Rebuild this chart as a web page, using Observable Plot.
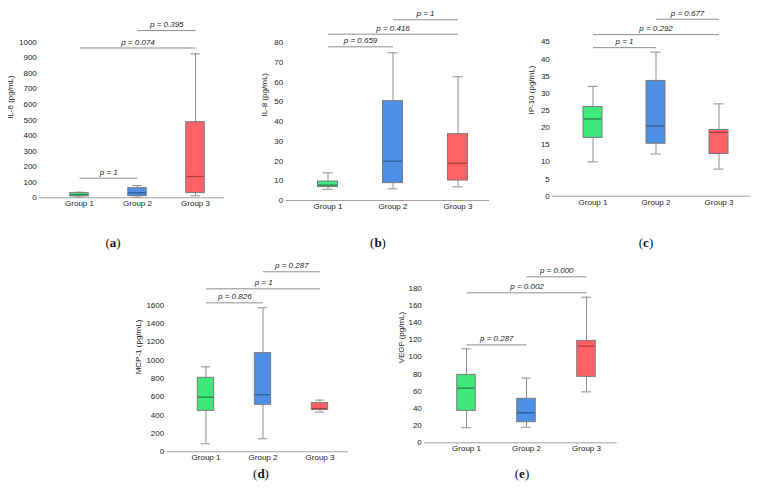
<!DOCTYPE html>
<html><head><meta charset="utf-8">
<script src="https://cdn.jsdelivr.net/npm/d3@7"></script>
<script src="https://cdn.jsdelivr.net/npm/@observablehq/plot@0.6"></script>
<style>
body{margin:0;background:#fff}
#wrap{position:relative;width:757px;height:499px;background:#fff;overflow:hidden}
.panel{position:absolute}
.panel svg{overflow:visible}
.tag{position:absolute;font-family:"Liberation Serif","Times New Roman",serif;font-size:13px;color:#111;transform:translate(-50%,-50%);white-space:nowrap}
</style></head><body><div id="wrap"></div>
<script>
const groups = ["Group 1", "Group 2", "Group 3"];
const boxColors = ["#3ee87a", "#4f8fe6", "#ff6166"];
const medianColors = ["#2f7a4c", "#2d5a8e", "#a83d42"];

// (a) IL-6
const il6Min = [4, 4, 13];
const il6Q1 = [9, 11, 30];
const il6Med = [20, 32, 137];
const il6Q3 = [30, 62, 486];
const il6Max = [36, 79, 925];
const il6Ticks = [0, 100, 200, 300, 400, 500, 600, 700, 800, 900, 1000];
const il6Pairs = [["Group 1", "Group 2"], ["Group 1", "Group 3"], ["Group 2", "Group 3"]];
const il6PY = [126, 963, 1075];
const il6P = ["p = 1", "p = 0.074", "p = 0.395"];

// (b) IL-8
const il8Min = [5.7, 5.9, 6.9];
const il8Q1 = [6.8, 8.8, 10.1];
const il8Med = [7.8, 19.9, 18.9];
const il8Q3 = [9.6, 50.3, 33.6];
const il8Max = [14, 74.8, 62.6];
const il8Ticks = [0, 10, 20, 30, 40, 50, 60, 70, 80];
const il8Pairs = [["Group 1", "Group 2"], ["Group 1", "Group 3"], ["Group 2", "Group 3"]];
const il8PY = [77.8, 84.2, 91.5];
const il8P = ["p = 0.659", "p = 0.416", "p = 1"];

// (c) IP-10
const ip10Min = [10, 12.3, 7.9];
const ip10Q1 = [17, 15.3, 12.3];
const ip10Med = [22.5, 20.5, 18.6];
const ip10Q3 = [26, 33.6, 19.3];
const ip10Max = [32, 42, 26.9];
const ip10Ticks = [0, 5, 10, 15, 20, 25, 30, 35, 40, 45];
const ip10Pairs = [["Group 1", "Group 2"], ["Group 1", "Group 3"], ["Group 2", "Group 3"]];
const ip10PY = [43.3, 47.1, 51.6];
const ip10P = ["p = 1", "p = 0.292", "p = 0.677"];

// (d) MCP-1
const mcp1Min = [87, 142, 433];
const mcp1Q1 = [447, 513, 455];
const mcp1Med = [596, 622, 473];
const mcp1Q3 = [807, 1076, 531];
const mcp1Max = [927, 1571, 564];
const mcp1Ticks = [0, 200, 400, 600, 800, 1000, 1200, 1400, 1600];
const mcp1Pairs = [["Group 1", "Group 2"], ["Group 1", "Group 3"], ["Group 2", "Group 3"]];
const mcp1PY = [1625, 1778, 1964];
const mcp1P = ["p = 0.826", "p = 1", "p = 0.287"];

// (e) VEGF
const vegfMin = [17.5, 18.2, 59.3];
const vegfQ1 = [37.2, 24, 76.8];
const vegfMed = [63.6, 34.9, 112.5];
const vegfQ3 = [79.1, 51.2, 118.7];
const vegfMax = [109.4, 75.3, 169.5];
const vegfTicks = [0, 20, 40, 60, 80, 100, 120, 140, 160, 180];
const vegfPairs = [["Group 1", "Group 2"], ["Group 1", "Group 3"], ["Group 2", "Group 3"]];
const vegfPY = [114, 174.6, 193.2];
const vegfP = ["p = 0.287", "p = 0.002", "p = 0.000"];

const wrap = document.getElementById("wrap");

function drawPanel(L, title, yLabel, mins, q1s, meds, q3s, maxs, ticks, pairs, pys, ps) {
  const rows = groups.map((g, i) => ({group: g, min: mins[i], q1: q1s[i], med: meds[i], q3: q3s[i], max: maxs[i], fill: boxColors[i], mc: medianColors[i]}));
  const br = pairs.map((p, i) => ({from: p[0], to: p[1], y: pys[i], label: ps[i]}));
  const s = L.step;
  const inBox = (s - L.boxW) / 2, inCap = (s - L.capW) / 2;
  const gray = "#8e8e8e";
  const bracketMarks = br.flatMap(b => {
    const span = groups.indexOf(b.to) - groups.indexOf(b.from);
    return [
      Plot.link([b], {x1: "from", x2: "to", y1: "y", y2: "y", stroke: gray, strokeWidth: 1}),
      Plot.text([b], {x: "from", y: "y", text: "label", dx: span * s / 2, dy: -6, fontStyle: "italic", fill: "#222"})
    ];
  });
  const svg = Plot.plot({
    width: L.width, height: L.height,
    marginLeft: L.axisLeft - L.left,
    marginRight: L.left + L.width - L.axisRight,
    marginTop: L.yTopPx - L.top,
    marginBottom: L.top + L.height - L.yBase,
    x: {type: "band", domain: groups, range: [L.c1 - L.left - s / 2, L.c1 - L.left + 2.5 * s], padding: 0},
    y: {domain: [0, L.yTop]},
    style: {fontFamily: "'Liberation Sans', Arial, sans-serif", fontSize: "8px", color: "#222", background: "transparent", overflow: "visible"},
    marks: [
      Plot.ruleX(rows, {x: "group", y1: "min", y2: "max", stroke: gray}),
      Plot.tickY(rows, {x: "group", y: "min", stroke: gray, insetLeft: inCap, insetRight: inCap}),
      Plot.tickY(rows, {x: "group", y: "max", stroke: gray, insetLeft: inCap, insetRight: inCap}),
      Plot.barY(rows, {x: "group", y1: "q1", y2: "q3", fill: "fill", stroke: "#7a7a7a", strokeWidth: 1, insetLeft: inBox, insetRight: inBox}),
      Plot.tickY(rows, {x: "group", y: "med", stroke: "mc", strokeWidth: 1.2, insetLeft: inBox + 0.5, insetRight: inBox + 0.5}),
      Plot.ruleY([0], {stroke: "#a0a0a0"}),
      Plot.axisY({ticks, tickFormat: d => String(d), tickSize: 0, tickPadding: 3, line: true, stroke: "#a0a0a0", fill: "#222", label: null}),
      Plot.axisX({tickSize: 0, tickPadding: 3, label: null, fill: "#222"}),
      Plot.text([yLabel], {frameAnchor: "left", rotate: -90, dx: L.labelDx, text: d => d, fill: "#222"}),
      ...bracketMarks
    ]
  });
  const div = document.createElement("div");
  div.className = "panel";
  div.style.left = L.left + "px";
  div.style.top = L.top + "px";
  div.appendChild(svg);
  wrap.appendChild(div);
  const tag = document.createElement("div");
  tag.className = "tag";
  tag.style.left = L.tagX + "px";
  tag.style.top = L.tagY + "px";
  tag.innerHTML = "(<b>" + title + "</b>)";
  wrap.appendChild(tag);
}

const layoutA = {left: 0, top: 0, width: 245, height: 215, axisLeft: 39.3, axisRight: 224, yBase: 197.3, yTopPx: 39.4, yTop: 1015, c1: 78, step: 58.5, boxW: 19, capW: 10, labelDx: -29.3, tagX: 113, tagY: 243};
const layoutB = {left: 250, top: 0, width: 250, height: 215, axisLeft: 285.7, axisRight: 489, yBase: 200, yTopPx: 32.1, yTop: 85, c1: 327.7, step: 65, boxW: 20, capW: 10, labelDx: -21.7, tagX: 378, tagY: 243};
const layoutC = {left: 500, top: 0, width: 257, height: 215, axisLeft: 552.3, axisRight: 750, yBase: 195.7, yTopPx: 32.4, yTop: 47.6, c1: 592.3, step: 63, boxW: 19, capW: 10, labelDx: -21.6, tagX: 646, tagY: 243};
const layoutD = {left: 130, top: 250, width: 240, height: 215, axisLeft: 166.7, axisRight: 348, yBase: 451.3, yTopPx: 296.4, yTop: 1690, c1: 204.7, step: 57.7, boxW: 17, capW: 10, labelDx: -28.4, tagX: 261, tagY: 474};
const layoutE = {left: 380, top: 250, width: 250, height: 215, axisLeft: 424.3, axisRight: 616.7, yBase: 442.3, yTopPx: 283.4, yTop: 185, c1: 465, step: 60.5, boxW: 19, capW: 10, labelDx: -23.6, tagX: 522, tagY: 474};

drawPanel(layoutA, "a", "IL-6 (pg/mL)", il6Min, il6Q1, il6Med, il6Q3, il6Max, il6Ticks, il6Pairs, il6PY, il6P);
drawPanel(layoutB, "b", "IL-8 (pg/mL)", il8Min, il8Q1, il8Med, il8Q3, il8Max, il8Ticks, il8Pairs, il8PY, il8P);
drawPanel(layoutC, "c", "IP-10 (pg/mL)", ip10Min, ip10Q1, ip10Med, ip10Q3, ip10Max, ip10Ticks, ip10Pairs, ip10PY, ip10P);
drawPanel(layoutD, "d", "MCP-1 (pg/mL)", mcp1Min, mcp1Q1, mcp1Med, mcp1Q3, mcp1Max, mcp1Ticks, mcp1Pairs, mcp1PY, mcp1P);
drawPanel(layoutE, "e", "VEGF (pg/mL)", vegfMin, vegfQ1, vegfMed, vegfQ3, vegfMax, vegfTicks, vegfPairs, vegfPY, vegfP);
</script></body></html>
